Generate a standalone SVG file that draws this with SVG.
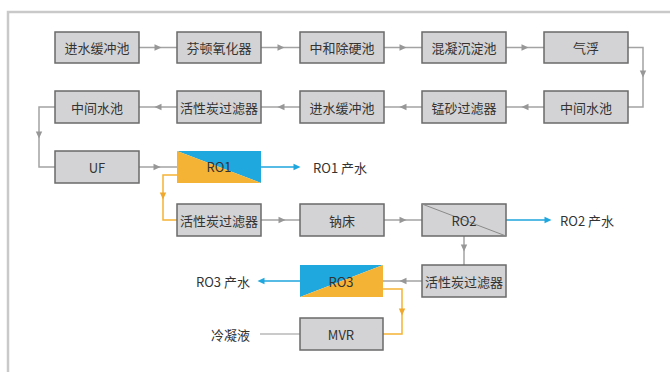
<svg xmlns="http://www.w3.org/2000/svg" xmlns:xlink="http://www.w3.org/1999/xlink" width="670" height="372" viewBox="0 0 670 372">
<style>
.box{fill:#d3d3d5;stroke:#6a6a6a;stroke-width:1.5}
.t{font-family:"Noto Sans CJK SC","Noto Sans",sans-serif;font-size:13px;fill:#333;text-anchor:middle;dominant-baseline:central}
.tl{font-family:"Noto Sans CJK SC","Noto Sans",sans-serif;font-size:13px;fill:#333;dominant-baseline:central}
.g{fill:none;stroke:#a3a3a3;stroke-width:1.5}
.o{fill:none;stroke:#f5b335;stroke-width:1.5}
.b{fill:none;stroke:#1ea6de;stroke-width:1.5}
.ga{fill:#979797}
.oa{fill:#f0a82c}
.ba{fill:#1ea6de}
</style>
<defs>
<path id="ah" d="M-3.5,-3.2 L3.5,0 L-3.5,3.2 Z"/>
</defs>
<path d="M8,372 V12 H670" fill="none" stroke="#c9c9c9" stroke-width="2.5"/>
<g id="connectors">
<path class="g" d="M139,47.5 H177"/><use href="#ah" class="ga" transform="translate(158,47.5)"/>
<path class="g" d="M261,47.5 H300"/><use href="#ah" class="ga" transform="translate(281,47.5)"/>
<path class="g" d="M384,47.5 H422"/><use href="#ah" class="ga" transform="translate(403,47.5)"/>
<path class="g" d="M506,47.5 H544"/><use href="#ah" class="ga" transform="translate(525,47.5)"/>
<path class="g" d="M628,47.5 H643 V107 H628"/><use href="#ah" class="ga" transform="translate(643,74) rotate(90)"/>
<path class="g" d="M544,107 H506"/><use href="#ah" class="ga" transform="translate(525,107) rotate(180)"/>
<path class="g" d="M422,107 H384"/><use href="#ah" class="ga" transform="translate(403,107) rotate(180)"/>
<path class="g" d="M300,107 H261"/><use href="#ah" class="ga" transform="translate(281,107) rotate(180)"/>
<path class="g" d="M177,107 H139"/><use href="#ah" class="ga" transform="translate(158,107) rotate(180)"/>
<path class="g" d="M55,107 H39 V167 H55"/><use href="#ah" class="ga" transform="translate(39,135) rotate(90)"/>
<path class="g" d="M139,167 H177"/><use href="#ah" class="ga" transform="translate(157,167)"/>
<path class="b" d="M261,167 H297"/><use href="#ah" class="ba" transform="translate(297,167)"/>
<path class="o" d="M177,175 H163 V220 H177"/><use href="#ah" class="oa" transform="translate(163,196) rotate(90)"/>
<path class="g" d="M261,220 H300"/><use href="#ah" class="ga" transform="translate(282,220)"/>
<path class="g" d="M384,220 H422"/><use href="#ah" class="ga" transform="translate(403,220)"/>
<path class="b" d="M506,220 H548"/><use href="#ah" class="ba" transform="translate(548,220)"/>
<path class="g" d="M464,236 V265"/><use href="#ah" class="ga" transform="translate(464,248) rotate(90)"/>
<path class="g" d="M422,281 H383"/><use href="#ah" class="ga" transform="translate(403,281) rotate(180)"/>
<path class="b" d="M300,281 H262"/><use href="#ah" class="ba" transform="translate(261,281) rotate(180)"/>
<path class="o" d="M383,289 H402 V334 H383"/><use href="#ah" class="oa" transform="translate(402,312) rotate(90)"/>
<path d="M260,334 H300" fill="none" stroke="#b8b8b8" stroke-width="1.5"/>
</g>
<g id="n1"><rect class="box" x="55" y="32" width="84" height="31"/><text class="t" x="97" y="47.5">进水缓冲池</text></g>
<g id="n2"><rect class="box" x="177" y="32" width="84" height="31"/><text class="t" x="219" y="47.5">芬顿氧化器</text></g>
<g id="n3"><rect class="box" x="300" y="32" width="84" height="31"/><text class="t" x="342" y="47.5">中和除硬池</text></g>
<g id="n4"><rect class="box" x="422" y="32" width="84" height="31"/><text class="t" x="464" y="47.5">混凝沉淀池</text></g>
<g id="n5"><rect class="box" x="544" y="32" width="84" height="31"/><text class="t" x="586" y="47.5">气浮</text></g>
<g id="n6"><rect class="box" x="544" y="91" width="84" height="32"/><text class="t" x="586" y="107">中间水池</text></g>
<g id="n7"><rect class="box" x="422" y="91" width="84" height="32"/><text class="t" x="464" y="107">锰砂过滤器</text></g>
<g id="n8"><rect class="box" x="300" y="91" width="84" height="32"/><text class="t" x="342" y="107">进水缓冲池</text></g>
<g id="n9"><rect class="box" x="177" y="91" width="84" height="32"/><text class="t" x="219" y="107">活性炭过滤器</text></g>
<g id="n10"><rect class="box" x="55" y="91" width="84" height="32"/><text class="t" x="97" y="107">中间水池</text></g>
<g id="n11"><rect class="box" x="55" y="151" width="84" height="32"/><text class="t" x="97" y="167">UF</text></g>
<g id="n12"><polygon points="177,151 261,151 261,183" fill="#1ea8de"/><polygon points="177,151 261,183 177,183" fill="#f5b335"/><text class="t" x="219" y="166">RO1</text></g>
<g id="n13"><text class="tl" x="313" y="167">RO1 产水</text></g>
<g id="n14"><rect class="box" x="177" y="204" width="84" height="32"/><text class="t" x="219" y="220">活性炭过滤器</text></g>
<g id="n15"><rect class="box" x="300" y="204" width="84" height="32"/><text class="t" x="342" y="220">钠床</text></g>
<g id="n16"><rect class="box" x="422" y="204" width="84" height="32"/><line x1="422" y1="204" x2="506" y2="236" stroke="#8a8a8a" stroke-width="1"/><text class="t" x="464" y="220">RO2</text></g>
<g id="n17"><text class="tl" x="560" y="220">RO2 产水</text></g>
<g id="n18"><rect class="box" x="422" y="265" width="84" height="32"/><text class="t" x="464" y="281">活性炭过滤器</text></g>
<g id="n19"><polygon points="300,265 383,265 300,297" fill="#1ea8de"/><polygon points="383,265 383,297 300,297" fill="#f5b335"/><text class="t" x="341" y="281">RO3</text></g>
<g id="n20"><text class="tl" x="250" y="281" text-anchor="end">RO3 产水</text></g>
<g id="n21"><rect class="box" x="300" y="318" width="83" height="32"/><text class="t" x="341" y="334">MVR</text></g>
<g id="n22"><text class="tl" x="250" y="334" text-anchor="end">冷凝液</text></g>
</svg>
